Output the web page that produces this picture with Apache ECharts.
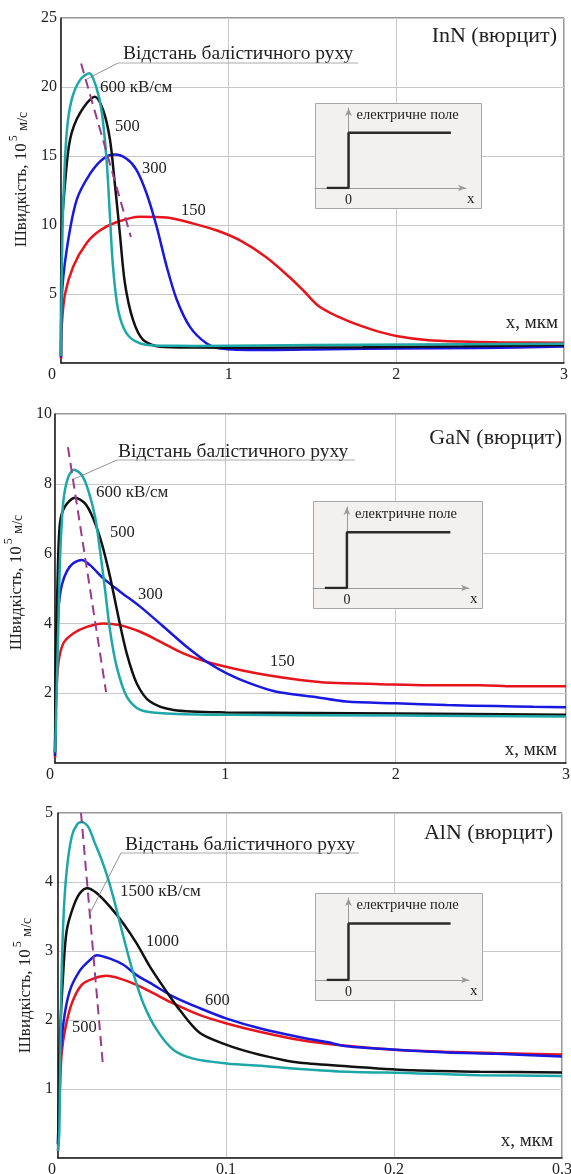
<!DOCTYPE html>
<html>
<head>
<meta charset="utf-8">
<script src="https://cdn.jsdelivr.net/npm/echarts@6/dist/echarts.min.js"></script>
<style>html,body{margin:0;padding:0;background:#fff;}#c{width:571px;height:1174px;}</style>
</head>
<body>
<div id="c"></div>
<script>
// ---------- DATA ----------
// Panel 1: InN (вюрцит), x in мкм, velocity in 10^5 м/с
const innTicksX = [0, 1, 2, 3];
const innCyan600 = [[0,0.5],[0.004,6],[0.014,11.8],[0.034,16.7],[0.064,19.1],[0.113,20.5],[0.169,21.0],[0.21,20.0],[0.242,18.3],[0.272,14.7],[0.292,10.6],[0.31,7.0],[0.341,3.84],[0.391,2.15],[0.47,1.43],[0.59,1.25],[0.8,1.24],[1.2,1.27],[1.8,1.32],[2.4,1.36],[3.0,1.4]];
const innBlack500 = [[0,0.5],[0.004,9.4],[0.024,13],[0.054,16.2],[0.113,18.1],[0.202,19.3],[0.252,18.3],[0.292,16.2],[0.321,13],[0.351,9.4],[0.381,5.8],[0.43,3.1],[0.49,1.67],[0.59,1.18],[0.8,1.12],[1.2,1.1],[1.8,1.15],[2.4,1.22],[3.0,1.3]];
const innBlue300 = [[0,0.4],[0.004,4.6],[0.034,8.2],[0.093,11.8],[0.173,13.7],[0.252,14.8],[0.321,15.1],[0.391,14.8],[0.45,14.0],[0.51,12.3],[0.57,9.9],[0.63,7.0],[0.69,4.6],[0.77,2.6],[0.867,1.43],[0.95,1.05],[1.2,0.94],[1.6,1.0],[2.0,1.05],[2.5,1.08],[3.0,1.2]];
const innRed150 = [[0,0.3],[0.004,2.6],[0.024,5],[0.073,7.0],[0.153,8.7],[0.232,9.6],[0.33,10.2],[0.47,10.6],[0.63,10.55],[0.79,10.1],[0.93,9.6],[1.065,8.9],[1.22,7.7],[1.36,6.25],[1.45,5.2],[1.54,4.1],[1.7,3.1],[1.86,2.4],[2.0,1.96],[2.18,1.67],[2.39,1.55],[2.6,1.5],[3.0,1.47]];
const innBallistic = [[0.12,21.7],[0.417,9.13]];

// Panel 2: GaN (вюрцит)
const ganCyan600 = [[0,0.3],[0.005,1.0],[0.01,2.1],[0.02,4.0],[0.03,5.9],[0.049,7.5],[0.078,8.2],[0.112,8.4],[0.157,8.25],[0.196,7.8],[0.235,7.06],[0.264,6.1],[0.294,4.96],[0.323,3.8],[0.362,2.76],[0.421,1.9],[0.5,1.52],[0.656,1.42],[1.0,1.38],[2.0,1.36],[3.0,1.33]];
const ganBlack500 = [[0,0.3],[0.005,3.0],[0.015,5.2],[0.029,6.87],[0.059,7.35],[0.117,7.6],[0.176,7.44],[0.225,7.0],[0.274,6.3],[0.323,5.34],[0.372,4.19],[0.421,3.14],[0.48,2.28],[0.558,1.76],[0.695,1.52],[1.0,1.45],[2.0,1.42],[3.0,1.38]];
const ganBlue300 = [[0,0.2],[0.005,2.0],[0.01,3.2],[0.02,4.4],[0.04,5.1],[0.07,5.5],[0.107,5.72],[0.157,5.82],[0.206,5.67],[0.284,5.29],[0.382,4.91],[0.5,4.48],[0.636,3.91],[0.773,3.33],[0.89,2.9],[1.008,2.57],[1.145,2.28],[1.3,2.04],[1.517,1.9],[1.71,1.76],[2.0,1.71],[2.3,1.66],[2.59,1.63],[2.81,1.61],[3.0,1.6]];
const ganRed150 = [[0,0.15],[0.006,1.8],[0.02,2.86],[0.049,3.43],[0.107,3.71],[0.186,3.9],[0.284,4.0],[0.382,3.95],[0.5,3.76],[0.617,3.48],[0.753,3.14],[0.89,2.9],[1.047,2.71],[1.24,2.52],[1.44,2.38],[1.615,2.3],[1.91,2.26],[2.2,2.23],[2.5,2.23],[2.69,2.2],[3.0,2.2]];
const ganBallistic = [[0.076,9.05],[0.30,2.03]];

// Panel 3: AlN (вюрцит)
const alnCyan1500 = [[0,0.1],[0.0008,0.4],[0.0018,2.24],[0.0032,3.45],[0.0052,4.17],[0.0082,4.66],[0.0115,4.84],[0.0141,4.87],[0.018,4.8],[0.022,4.56],[0.026,4.32],[0.03,4.03],[0.0339,3.69],[0.0389,3.21],[0.0448,2.68],[0.0508,2.24],[0.0587,1.86],[0.0686,1.57],[0.0806,1.44],[0.1,1.37],[0.124,1.33],[0.144,1.29],[0.172,1.25],[0.2115,1.23],[0.251,1.2],[0.3,1.19]];
const alnBlack1000 = [[0,0.2],[0.0005,0.8],[0.0012,1.76],[0.0032,2.72],[0.0052,3.3],[0.0091,3.64],[0.0131,3.84],[0.0175,3.91],[0.023,3.84],[0.031,3.64],[0.0389,3.4],[0.0468,3.11],[0.0548,2.77],[0.0627,2.48],[0.0726,2.14],[0.0845,1.81],[0.1004,1.64],[0.1163,1.52],[0.134,1.42],[0.144,1.38],[0.172,1.33],[0.2115,1.27],[0.251,1.25],[0.3,1.24]];
const alnBlue600 = [[0,0.2],[0.0012,1.28],[0.0032,1.95],[0.0071,2.43],[0.0131,2.72],[0.019,2.87],[0.023,2.94],[0.031,2.89],[0.0389,2.8],[0.0468,2.65],[0.0567,2.51],[0.0686,2.34],[0.0845,2.17],[0.1004,2.02],[0.12,1.88],[0.144,1.75],[0.16,1.68],[0.172,1.62],[0.2016,1.57],[0.2314,1.53],[0.261,1.51],[0.3,1.47]];
const alnRed500 = [[0,0.1],[0.0012,1.03],[0.0022,1.52],[0.0042,1.86],[0.0082,2.24],[0.0141,2.51],[0.021,2.6],[0.029,2.64],[0.0369,2.6],[0.0468,2.51],[0.0567,2.39],[0.0686,2.24],[0.0845,2.07],[0.1004,1.95],[0.12,1.83],[0.144,1.71],[0.17,1.63],[0.2,1.57],[0.23,1.54],[0.26,1.52],[0.3,1.5]];
const alnBallistic = [[0.0137,5.0],[0.0268,1.33]];

// Inset: step electric field profile (schematic)
const fieldStep = [[-0.65,0],[0,0],[0,1],[3.05,1]];

// Texts
const panelTitles = ['InN (вюрцит)', 'GaN (вюрцит)', 'AlN (вюрцит)'];
const ballisticText = 'Відстань балістичного руху';
const innLabels = ['600 кВ/см', '500', '300', '150'];
const ganLabels = ['600 кВ/см', '500', '300', '150'];
const alnLabels = ['1500 кВ/см', '1000', '600', '500'];
const yName = '{a|Швидкість, 10}{s|5}{b| м/с}';
const xName = 'x, мкм';
const insetText = 'електричне поле';

// ---------- CHART ----------
const FONT = 'Liberation Serif';
const C_RED = '#e8141c', C_BLUE = '#1818e0', C_BLACK = '#111111', C_CYAN = '#1ea7a7', C_DASH = '#9a3a8c';

const chart = echarts.init(document.getElementById('c'), null, {renderer: 'canvas'});

const mainGrids = [
  {left: 61, top: 18, width: 503, height: 345},
  {left: 55, top: 414, width: 511, height: 349},
  {left: 58, top: 813, width: 504, height: 345}
];
const insetGrids = [
  {left: 315, top: 108, width: 151, height: 80, max: 3.5, box: [315, 103, 166, 105]},
  {left: 313, top: 507, width: 156, height: 81, max: 3.6, box: [313, 501, 169, 107]},
  {left: 315, top: 898, width: 154, height: 82, max: 3.6, box: [315, 893, 167, 107]}
];
const yCfg = [
  {max: 25, interval: 5, gap: 26, margin: 4, shift: 22},
  {max: 10, interval: 2, gap: 22, margin: 3, shift: 12},
  {max: 5, interval: 1, gap: 23, margin: 5, shift: 0}
];
const xCfg = [
  {max: 3, interval: 1, zeroPad: 18},
  {max: 3, interval: 1, zeroPad: 10},
  {max: 0.3, interval: 0.1, zeroPad: 12}
];

const grids = [], xAxes = [], yAxes = [], series = [];
mainGrids.forEach((g, i) => {
  grids.push(Object.assign({show: true, borderColor: '#333', borderWidth: 1, backgroundColor: 'transparent', containLabel: false, outerBoundsMode: 'none'}, g));
  xAxes.push({
    type: 'value', gridIndex: i, min: 0, max: xCfg[i].max, interval: xCfg[i].interval,
    axisLine: {show: true, onZero: false, lineStyle: {color: '#222', width: 1.5}},
    axisTick: {show: false},
    splitLine: {show: true, lineStyle: {color: '#c8c8c8', width: 1}},
    axisLabel: {
      fontFamily: FONT, fontSize: 16, color: '#222', margin: 4,
      formatter: v => (v === 0 ? '{z|0}' : String(+v.toFixed(2))),
      rich: {z: {fontFamily: FONT, fontSize: 16, color: '#222', padding: [0, xCfg[i].zeroPad, 0, 0]}}
    }
  });
  yAxes.push({
    type: 'value', gridIndex: i, min: 0, max: yCfg[i].max, interval: yCfg[i].interval,
    axisLine: {show: true, onZero: false, lineStyle: {color: '#222', width: 1.5}},
    axisTick: {show: false},
    splitLine: {show: true, lineStyle: {color: '#c8c8c8', width: 1}},
    axisLabel: {fontFamily: FONT, fontSize: 16, color: '#222', margin: yCfg[i].margin,
      formatter: v => (v === 0 ? '' : String(v))},
    name: yName, nameLocation: 'middle', nameRotate: 90, nameGap: yCfg[i].gap,
    nameTextStyle: {
      fontFamily: FONT, color: '#222', padding: [0, 0, 0, yCfg[i].shift],
      rich: {
        a: {fontFamily: FONT, fontSize: 17, color: '#222', lineHeight: 22, verticalAlign: 'bottom'},
        s: {fontFamily: FONT, fontSize: 12, color: '#222', lineHeight: 22, verticalAlign: 'top', padding: [0, 1, 0, 2]},
        b: {fontFamily: FONT, fontSize: 14, color: '#222', lineHeight: 22, verticalAlign: 'bottom'}
      }
    }
  });
});
insetGrids.forEach((g, k) => {
  const gi = 3 + k;
  grids.push({left: g.left, top: g.top, width: g.width, height: g.height, show: false, containLabel: false, outerBoundsMode: 'none'});
  xAxes.push({
    type: 'value', gridIndex: gi, min: -1, max: g.max, interval: 1, z: 3,
    axisLine: {show: true, onZero: true, symbol: ['none', 'arrow'], symbolSize: [5, 8], lineStyle: {color: '#9a9a9a', width: 1}},
    axisTick: {show: false}, splitLine: {show: false},
    axisLabel: {fontFamily: FONT, fontSize: 14, color: '#222', margin: 5, showMaxLabel: false, showMinLabel: false,
      formatter: v => (v === 0 ? '0' : '')},
    name: 'x', nameLocation: 'end', nameGap: 1,
    nameTextStyle: {fontFamily: FONT, fontSize: 15, color: '#222', align: 'left', verticalAlign: 'top', padding: [4, 0, 0, 0]}
  });
  yAxes.push({
    type: 'value', gridIndex: gi, min: 0, max: 1.45, z: 3,
    axisLine: {show: true, onZero: true, symbol: ['none', 'arrow'], symbolSize: [5, 8], lineStyle: {color: '#9a9a9a', width: 1}},
    axisTick: {show: false}, splitLine: {show: false}, axisLabel: {show: false},
    name: insetText, nameLocation: 'end', nameGap: -7,
    nameTextStyle: {fontFamily: FONT, fontSize: 14.5, color: '#222', align: 'left', verticalAlign: 'middle', padding: [0, 0, 0, 8]}
  });
});

function curve(idx, data, color, w) {
  return {type: 'line', xAxisIndex: idx, yAxisIndex: idx, data: data, showSymbol: false, symbol: 'none',
    smooth: 0.3, lineStyle: {color: color, width: w || 2.5}, z: 3, silent: true};
}
function dashed(idx, data) {
  return {type: 'line', xAxisIndex: idx, yAxisIndex: idx, data: data, showSymbol: false, symbol: 'none',
    lineStyle: {color: C_DASH, width: 2, type: [10, 6]}, z: 4, silent: true};
}
series.push(
  curve(0, innRed150, C_RED), curve(0, innBlue300, C_BLUE), curve(0, innBlack500, C_BLACK), curve(0, innCyan600, C_CYAN), dashed(0, innBallistic),
  curve(1, ganRed150, C_RED), curve(1, ganBlue300, C_BLUE), curve(1, ganBlack500, C_BLACK), curve(1, ganCyan600, C_CYAN), dashed(1, ganBallistic),
  curve(2, alnRed500, C_RED), curve(2, alnBlue600, C_BLUE), curve(2, alnBlack1000, C_BLACK), curve(2, alnCyan1500, C_CYAN), dashed(2, alnBallistic)
);
[3, 4, 5].forEach(gi => series.push({type: 'line', xAxisIndex: gi, yAxisIndex: gi, data: fieldStep, showSymbol: false, symbol: 'none',
  lineStyle: {color: '#2b2b2b', width: 2.5}, z: 5, silent: true}));

// ---------- annotations ----------
const gfx = [];
function txt(x, y, s, size, align) {
  gfx.push({type: 'text', x: x, y: y, z: 6, style: {text: s, fontFamily: FONT, fontSize: size, fill: '#222', align: align || 'left', verticalAlign: 'middle'}});
}
function line(x1, y1, x2, y2, color, w) {
  gfx.push({type: 'line', z: 6, shape: {x1: x1, y1: y1, x2: x2, y2: y2}, style: {stroke: color, lineWidth: w}});
}
insetGrids.forEach(g => gfx.push({type: 'rect', z: 1, shape: {x: g.box[0] + 0.5, y: g.box[1] + 0.5, width: g.box[2], height: g.box[3]},
  style: {fill: '#f3f1f0', stroke: '#a8a8a8', lineWidth: 1}}));

// titles
txt(557, 36, panelTitles[0], 22, 'right');
txt(562, 438, panelTitles[1], 22, 'right');
txt(553, 833, panelTitles[2], 22, 'right');
// ballistic labels + underline + leader
txt(123, 54, ballisticText, 19.5); line(118, 63, 358, 63, '#aaa', 1); line(118, 63, 87, 79, '#777', 0.8);
txt(118, 452, ballisticText, 19.5); line(117, 460, 355, 460, '#aaa', 1); line(117, 460, 74, 479, '#777', 0.8);
txt(125, 845, ballisticText, 19.5); line(121, 853, 359, 853, '#aaa', 1); line(121, 853, 89, 915, '#777', 0.8);
// curve labels
txt(100, 88, innLabels[0], 17); txt(115, 127, innLabels[1], 16.5); txt(142, 169, innLabels[2], 16.5); txt(181, 211, innLabels[3], 16.5);
txt(96, 493, ganLabels[0], 17); txt(110, 533, ganLabels[1], 16.5); txt(138, 595, ganLabels[2], 16.5); txt(270, 662, ganLabels[3], 16.5);
txt(120, 892, alnLabels[0], 17); txt(146, 942, alnLabels[1], 16.5); txt(205, 1001, alnLabels[2], 16.5); txt(72, 1028, alnLabels[3], 16.5);
// x axis names
txt(558, 323, xName, 19, 'right');
txt(557, 750, xName, 19, 'right');
txt(553, 1141, xName, 19, 'right');

chart.setOption({
  animation: false,
  backgroundColor: '#ffffff',
  textStyle: {fontFamily: FONT},
  grid: grids, xAxis: xAxes, yAxis: yAxes, series: series,
  graphic: {elements: gfx}
});
</script>
</body>
</html>
